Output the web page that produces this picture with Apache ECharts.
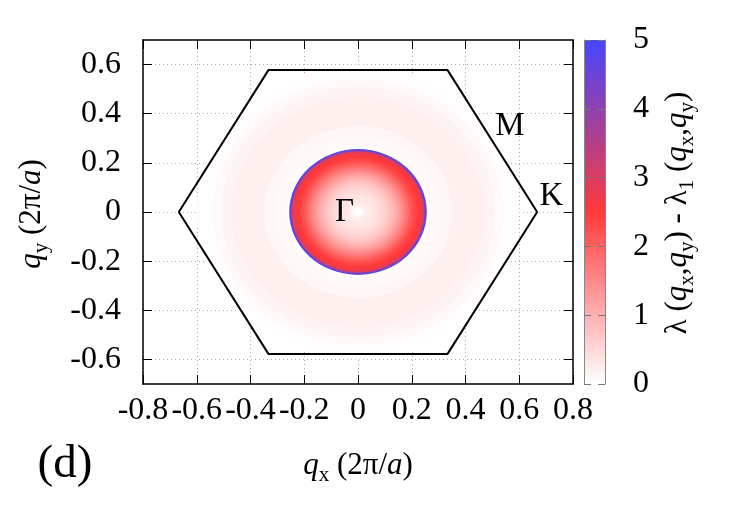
<!DOCTYPE html>
<html>
<head>
<meta charset="utf-8">
<script src="https://cdn.jsdelivr.net/npm/echarts@6/dist/echarts.min.js"></script>
<style>
html, body { margin: 0; padding: 0; background: #fff; }
#main { width: 750px; height: 525px; }
</style>
</head>
<body>
<div id="main"></div>
<script>
// radial profile of lambda(q) - lambda_1(q) (outer radius of each band, 2pi/a)
var ringRadius = [0.60, 0.54, 0.51, 0.47, 0.43, 0.39, 0.35, 0.31, 0.27, 0.256, 0.251, 0.246, 0.24, 0.235,
  0.23, 0.225, 0.22, 0.21, 0.20, 0.19, 0.18, 0.17, 0.16, 0.15, 0.14, 0.13, 0.12, 0.11, 0.10,
  0.09, 0.08, 0.07, 0.06, 0.05, 0.04, 0.03, 0.022, 0.015];
var ringValue = [0.03, 0.07, 0.14, 0.2, 0.22, 0.19, 0.12, 0.07, 0.04, 4.8, 4.0, 2.9, 2.7, 2.6,
  2.55, 2.5, 2.4, 2.25, 2.05, 1.85, 1.65, 1.45, 1.27, 1.1, 0.96, 0.84, 0.72, 0.62, 0.54,
  0.47, 0.41, 0.36, 0.32, 0.29, 0.25, 0.2, 0.12, 0];

// first Brillouin zone corners
var hexQx = [0.6667, 0.3333, -0.3333, -0.6667, -0.3333, 0.3333, 0.6667];
var hexQy = [0, 0.5774, 0.5774, 0, -0.5774, -0.5774, 0];

// high-symmetry point labels
var pointNames = ['Γ', 'M', 'K'];
var pointQx = [-0.05, 0.565, 0.72];
var pointQy = [0, 0.35, 0.065];

var yTicks = [-0.6, -0.4, -0.2, 0, 0.2, 0.4, 0.6];
var palette = ['#ffffff', '#ff3a3a', '#4646ff'];

var serif = 'Liberation Serif';
var chart = echarts.init(document.getElementById('main'));

var ringData = ringRadius.map(function (r, i) { return [r, ringValue[i]]; });
var hexData = hexQx.map(function (x, i) { return [x, hexQy[i]]; });
var pointData = pointNames.map(function (n, i) { return [pointQx[i], pointQy[i], n]; });

var rich = {
  n: { fontFamily: serif, fontSize: 31, lineHeight: 40, color: '#000' },
  i: { fontFamily: serif, fontSize: 31, lineHeight: 40, fontStyle: 'italic', color: '#000' },
  s: { fontFamily: serif, fontSize: 21, lineHeight: 22, verticalAlign: 'bottom', color: '#000' }
};

var frame = { show: true, onZero: false, lineStyle: { color: '#000', width: 1.5 } };
var ticksIn = { show: true, inside: true, length: 9, lineStyle: { color: '#000' } };
var yTicksIn = { show: true, inside: true, length: 9, lineStyle: { color: '#000' }, customValues: yTicks };
var dotted = { show: true, lineStyle: { color: '#aaaaaa', type: [1, 3], width: 1 } };
var tickFont = { fontFamily: serif, fontSize: 32, color: '#000' };

var option = {
  animation: false,
  backgroundColor: '#fff',
  grid: [
    { left: 143, right: 177, top: 40, bottom: 141 },
    { left: 584, width: 21, top: 40, height: 344 }
  ],
  xAxis: [
    { type: 'value', gridIndex: 0, min: -0.8, max: 0.8, interval: 0.2, axisLine: frame, axisTick: ticksIn,
      splitLine: dotted, axisLabel: Object.assign({ margin: 11 }, tickFont) },
    { type: 'value', gridIndex: 0, position: 'top', min: -0.8, max: 0.8, interval: 0.2, axisLine: frame,
      axisTick: ticksIn, axisLabel: { show: false }, splitLine: { show: false } },
    { type: 'value', gridIndex: 1, min: 0, max: 1, show: false }
  ],
  yAxis: [
    { type: 'value', gridIndex: 0, min: -0.7, max: 0.7, interval: 0.2, axisLine: frame, axisTick: yTicksIn,
      splitLine: dotted, axisLabel: Object.assign({ margin: 22, customValues: yTicks }, tickFont) },
    { type: 'value', gridIndex: 0, position: 'right', min: -0.7, max: 0.7, interval: 0.2, axisLine: frame,
      axisTick: yTicksIn, axisLabel: { show: false }, splitLine: { show: false } },
    { type: 'value', gridIndex: 1, position: 'right', min: 0, max: 5, interval: 1, z: 10,
      axisLine: { show: true, onZero: false, lineStyle: { color: '#888', width: 1 } },
      axisTick: { show: true, inside: true, length: 7, lineStyle: { color: '#777' } },
      axisLabel: Object.assign({ margin: 28 }, tickFont),
      splitLine: { show: false } },
    { type: 'value', gridIndex: 1, position: 'left', min: 0, max: 5, interval: 1, z: 10,
      axisLine: { show: true, onZero: false, lineStyle: { color: '#888', width: 1 } },
      axisTick: { show: true, inside: true, length: 7, lineStyle: { color: '#777' } },
      axisLabel: { show: false }, splitLine: { show: false } }
  ],
  visualMap: {
    show: false, type: 'continuous', min: 0, max: 5, dimension: 1, seriesIndex: 0,
    inRange: { color: palette }
  },
  series: [
    {
      type: 'custom', xAxisIndex: 0, yAxisIndex: 0, z: 1,
      data: ringData,
      encode: { x: 0, y: 1 },
      renderItem: function (params, api) {
        var r = api.value(0);
        var c = api.coord([0, 0]);
        var s = api.size([r, r]);
        return {
          type: 'circle', x: c[0], y: c[1], scaleY: s[1] / s[0],
          shape: { cx: 0, cy: 0, r: s[0] },
          style: { fill: api.visual('color') }
        };
      }
    },
    {
      type: 'line', xAxisIndex: 0, yAxisIndex: 0, z: 3, data: hexData, symbol: 'none',
      lineStyle: { color: '#000', width: 2 }
    },
    {
      type: 'custom', xAxisIndex: 0, yAxisIndex: 0, z: 4, data: pointData,
      encode: { x: 0, y: 1 },
      renderItem: function (params, api) {
        var p = api.coord([api.value(0), api.value(1)]);
        return {
          type: 'text', x: p[0], y: p[1],
          style: { text: pointNames[params.dataIndex], font: '33px "Liberation Serif"', fill: '#000',
            align: 'center', verticalAlign: 'middle' }
        };
      }
    },
    {
      type: 'custom', xAxisIndex: 2, yAxisIndex: 2, z: 1, data: [[0, 0]],
      renderItem: function (params, api) {
        var p0 = api.coord([0, 5]);
        var p1 = api.coord([1, 0]);
        return {
          type: 'rect',
          shape: { x: p0[0], y: p0[1], width: p1[0] - p0[0], height: p1[1] - p0[1] },
          style: {
            fill: new echarts.graphic.LinearGradient(0, 1, 0, 0, [
              { offset: 0, color: palette[0] },
              { offset: 0.5, color: palette[1] },
              { offset: 1, color: palette[2] }
            ])
          }
        };
      }
    }
  ],
  graphic: [
    { type: 'text', x: 358, y: 466, style: { text: '{i|q}{s|x}{n| (2π/}{i|a}{n|)}', rich: rich, align: 'center', verticalAlign: 'middle' } },
    { type: 'text', x: 32, y: 214, rotation: Math.PI / 2, style: { text: '{i|q}{s|y}{n| (2π/}{i|a}{n|)}', rich: rich, align: 'center', verticalAlign: 'middle' } },
    { type: 'text', x: 678, y: 213, rotation: Math.PI / 2,
      style: { text: '{n|λ (}{i|q}{s|x}{n|,}{i|q}{s|y}{n|) - λ}{s|1}{n| (}{i|q}{s|x}{n|,}{i|q}{s|y}{n|)}', rich: rich, align: 'center', verticalAlign: 'middle' } },
    { type: 'text', x: 65, y: 465, style: { text: '(d)', font: '47px "Liberation Serif"', fill: '#000', align: 'center', verticalAlign: 'middle' } }
  ]
};

chart.setOption(option);
</script>
</body>
</html>
